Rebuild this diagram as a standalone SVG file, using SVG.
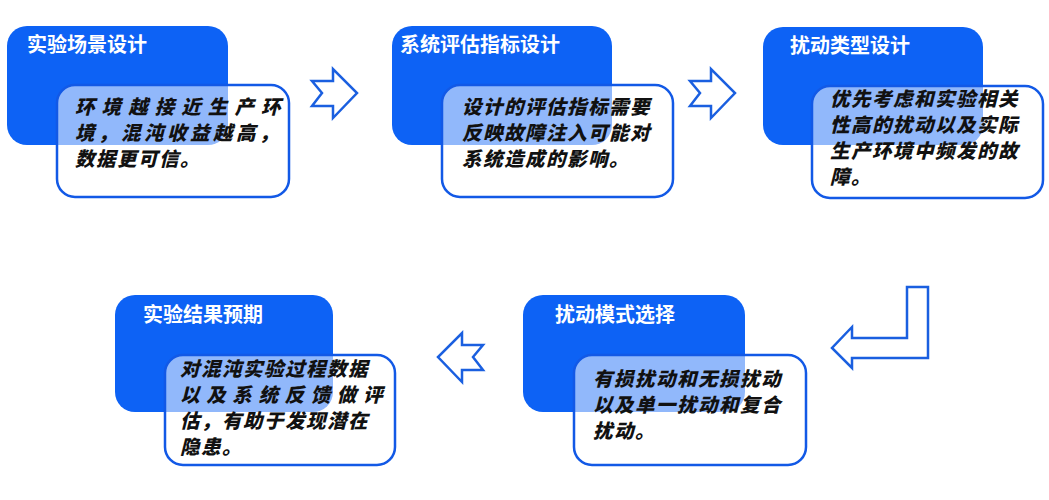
<svg xmlns="http://www.w3.org/2000/svg" width="1049" height="500" viewBox="0 0 1049 500">
<style>
.b{fill:#0d62f5}
.w{fill:#fff;fill-opacity:0.55;stroke:#1259e6;stroke-width:2.5}
.t{fill:#fff;font:bold 20px "Noto Sans CJK SC",sans-serif}
.x{fill:#111;font:italic 900 19.5px "Noto Sans CJK SC",sans-serif;letter-spacing:1.5px}
.a{fill:#fff;stroke:#1a5fe0;stroke-width:2.5;stroke-linejoin:miter}
</style>
<rect width="1049" height="500" fill="#fff"/>
<g id="n1"><rect class="b" x="7" y="26" width="221" height="119" rx="20"/><rect class="w" x="57" y="85" width="232" height="112" rx="18"/>
<text class="t" x="27" y="52">实验场景设计</text>
<text class="x" x="75" y="114" textLength="207">环境越接近生产环</text><text class="x" x="75" y="140" textLength="205">境，混沌收益越高，</text><text class="x" x="75" y="166">数据更可信。</text></g>
<g id="n2"><rect class="b" x="392" y="26" width="220" height="119" rx="20"/><rect class="w" x="442" y="85" width="231" height="112" rx="18"/>
<text class="t" x="400" y="52">系统评估指标设计</text>
<text class="x" x="462" y="114">设计的评估指标需要</text><text class="x" x="462" y="140">反映故障注入可能对</text><text class="x" x="462" y="166">系统造成的影响。</text></g>
<g id="n3"><rect class="b" x="763" y="27" width="220" height="118" rx="20"/><rect class="w" x="812" y="86" width="231" height="112" rx="18"/>
<text class="t" x="790" y="53">扰动类型设计</text>
<text class="x" x="830" y="106">优先考虑和实验相关</text><text class="x" x="830" y="132">性高的扰动以及实际</text><text class="x" x="830" y="158">生产环境中频发的故</text><text class="x" x="830" y="184">障。</text></g>
<g id="n4"><rect class="b" x="523" y="295" width="222" height="117" rx="20"/><rect class="w" x="574" y="355" width="232" height="110" rx="18"/>
<text class="t" x="555" y="322">扰动模式选择</text>
<text class="x" x="593" y="386">有损扰动和无损扰动</text><text class="x" x="593" y="412">以及单一扰动和复合</text><text class="x" x="593" y="438">扰动。</text></g>
<g id="n5"><rect class="b" x="115" y="295" width="218" height="117" rx="20"/><rect class="w" x="165" y="355" width="230" height="110" rx="18"/>
<text class="t" x="143" y="322">实验结果预期</text>
<text class="x" x="180" y="376">对混沌实验过程数据</text><text class="x" x="180" y="402" textLength="204">以及系统反馈做评</text><text class="x" x="180" y="428">估，有助于发现潜在</text><text class="x" x="180" y="454">隐患。</text></g>
<g id="connectors">
<polygon class="a" points="312,81 333,81 333,69 357,93 333,118 333,106 312,106 322,93"/>
<polygon class="a" points="690,81 711,81 711,69 735,93 711,118 711,106 690,106 700,93"/>
<polygon class="a" points="907,287 928,287 928,358 852,358 852,368 832,348 852,327 852,338 907,338"/>
<polygon class="a" points="483,345 462,345 462,333 438,357 462,382 462,370 483,370 473,357"/>
</g>
</svg>
